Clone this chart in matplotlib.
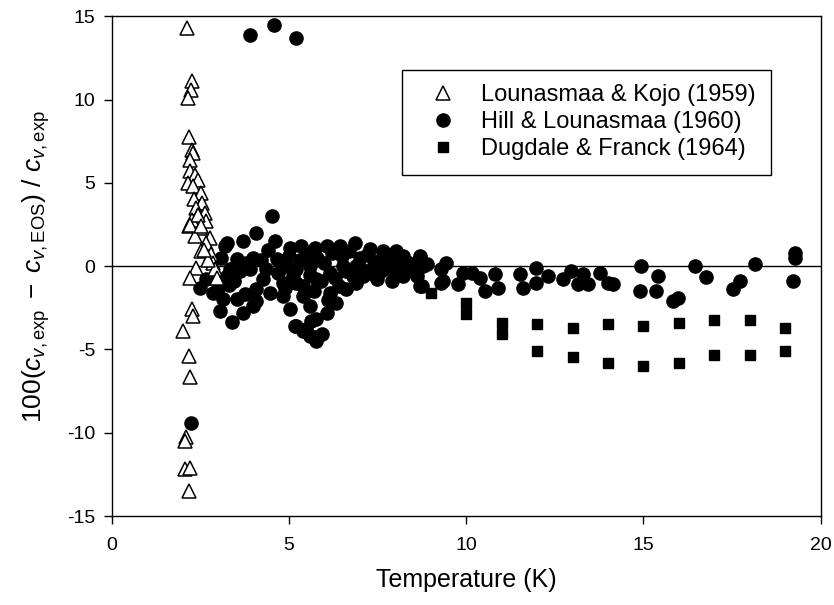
import matplotlib
matplotlib.use('Agg')
import matplotlib.pyplot as plt

plt.rcParams['font.family'] = ['Liberation Sans', 'DejaVu Sans']
plt.rcParams['mathtext.fontset'] = 'custom'
plt.rcParams['mathtext.rm'] = 'Liberation Sans'
plt.rcParams['mathtext.it'] = 'Liberation Sans:italic'
plt.rcParams['axes.unicode_minus'] = False

# Lounasmaa & Kojo (1959)
lk_T = [2.12, 2.25, 2.23, 2.15, 2.17, 2.27, 2.29, 2.22, 2.20, 2.36, 2.44, 2.15, 2.28,
        2.53, 2.31, 2.56, 2.39, 2.62, 2.44, 2.25, 2.67, 2.18, 2.48, 2.34, 2.76, 2.67,
        2.53, 2.81, 2.44, 2.20, 2.53, 2.86, 2.39, 2.90, 2.20, 2.97, 2.25, 2.29, 2.01,
        2.18, 2.20, 2.10, 2.06, 2.06, 2.22, 2.18, 2.72, 2.60]
lk_dev = [14.3, 11.1, 10.6, 10.1, 7.78, 7.0, 6.8, 6.4, 5.7, 5.5, 5.2, 5.0, 4.8,
          4.4, 4.06, 3.8, 3.5, 3.2, 3.06, 2.8, 2.7, 2.4, 2.3, 1.8, 1.7, 1.4,
          0.92, 0.72, 3.1, 2.46, 2.4, 0.22, -0.08, -0.18, -0.68, -0.68, -2.58, -2.98, -3.88,
          -5.42, -6.68, -10.28, -10.48, -12.18, -12.14, -13.48, 0.4, 1.0]

# Hill & Lounasmaa (1960)
hl_T = [3.89, 4.57, 5.19, 4.51, 2.23,
        3.24, 3.70, 4.08, 4.60, 5.02, 5.35, 5.73, 6.06, 6.43, 6.85, 7.28, 7.65, 8.03, 8.69,
        3.09, 3.33, 3.61, 3.80, 3.99, 2.48, 2.86, 3.14, 3.05, 3.38, 3.70, 3.75, 4.08, 4.08,
        4.46, 4.83, 5.21, 5.49, 5.73, 5.92, 5.77, 6.06, 6.34, 6.62, 5.59, 5.02, 5.40, 6.15,
        4.93, 5.21, 5.59, 5.77, 6.15, 6.52, 6.90, 7.09, 7.47, 7.84, 8.22, 8.60, 8.69, 4.65,
        4.36, 4.27, 4.83, 5.21,
        5.16, 5.40, 5.63, 5.77, 5.59,
        3.19, 3.52, 3.89, 3.52, 3.99, 2.67, 3.24, 3.00,
        4.70, 5.00, 5.10, 5.30, 5.40, 5.50, 5.60, 5.70, 5.80, 5.90, 6.00, 6.10, 6.20, 6.30,
        6.40, 6.50, 6.60, 6.70, 6.80, 7.00, 7.10, 7.20, 7.30, 7.50, 7.60, 7.80, 8.00, 8.10,
        8.40, 8.50, 4.40, 4.20, 3.30, 3.45, 4.90, 6.90, 7.40, 7.90,
        9.30, 9.30, 8.78, 8.74, 8.31, 8.22, 8.69, 8.78, 8.88,
        9.44, 9.35, 9.77, 9.91, 10.15, 10.38, 10.52, 10.80, 10.90, 11.51, 11.60, 11.98,
        11.98, 12.31, 12.73, 12.97, 13.15, 13.30, 13.44, 13.77, 14.00, 14.14, 14.94, 15.41,
        14.89, 15.36, 15.83, 15.97, 16.45, 16.77, 17.53, 17.72, 18.14, 19.27, 19.27, 19.22]
hl_dev = [13.9, 14.5, 13.7, 3.0, -9.42,
          1.42, 1.52, 2.02, 1.52, 1.12, 1.22, 1.12, 1.22, 1.22, 1.42, 1.02, 0.92, 0.92, 0.62,
          0.52, -0.18, -0.28, 0.22, 0.52, -1.28, -1.58, -1.98, -2.68, -3.34, -2.78, -1.68, -2.08, -1.38,
          -1.58, -1.78, -3.58, -3.78, -4.28, -4.08, -3.18, -2.78, -2.18, -1.38, -2.38, -2.58, -1.78, -1.58,
          0.02, -0.18, 0.02, -0.78, -0.38, 0.02, 0.02, -0.58, -0.78, -0.18, -0.58, -0.58, -1.18, 0.42,
          -0.18, -0.78, -0.98, -0.98,
          -3.58, -3.88, -3.28, -4.48, -4.18,
          1.22, 0.42, -0.18, -1.98, -2.38, -0.78, -0.58, -1.28,
          -0.4, 0.6, -0.6, 0.4, -1.2, 0.8, -0.5, -1.5, 0.5, -0.9, 0.2, -2.0, 0.8, -0.7,
          -1.2, 0.6, -0.3, 0.9, -0.6, 0.5, -0.2, 0.7, -0.4, 0.3, -0.3, 0.5, -0.3, 0.4,
          0.2, -0.2, 1.0, 0.4, -1.1, -0.9, -1.3, -1.0, 0.1, -0.9,
          -0.18, -0.98, 0.22, -1.18, 0.02, 0.62, 0.52, 0.02, 0.12,
          0.22, -0.88, -1.08, -0.38, -0.38, -0.68, -1.48, -0.48, -1.28, -0.48, -1.28, -0.08,
          -0.98, -0.58, -0.78, -0.28, -1.08, -0.48, -1.08, -0.38, -0.98, -1.08, 0.02, -0.58,
          -1.48, -1.48, -2.08, -1.88, 0.02, -0.62, -1.38, -0.88, 0.12, 0.82, 0.52, -0.88]

# Dugdale & Franck (1964)
df_T = [9.0, 10.0, 10.0, 11.0, 11.0, 12.0, 12.0, 13.0, 13.0, 14.0, 14.0, 15.0, 15.0,
        16.0, 16.0, 17.0, 17.0, 18.0, 18.0, 19.0, 19.0]
df_dev = [-1.58, -2.2, -2.85, -3.4, -4.1, -3.48, -5.12, -3.72, -5.48, -3.48, -5.82,
          -3.58, -5.98, -3.38, -5.82, -3.24, -5.32, -3.24, -5.32, -3.74, -5.08]

fig = plt.figure(figsize=(8.34, 6.05), dpi=100)
ax = fig.add_axes([0.134, 0.147, 0.850, 0.826])

ax.axhline(0, color='black', lw=1.0, zorder=1)
ax.plot(lk_T, lk_dev, linestyle='none', marker='^', ms=9.5, mfc='white', mec='black',
        mew=1.1, label='Lounasmaa & Kojo (1959)', zorder=3)
ax.plot(hl_T, hl_dev, linestyle='none', marker='o', ms=9.5, color='black',
        label='Hill & Lounasmaa (1960)', zorder=2)
ax.plot(df_T, df_dev, linestyle='none', marker='s', ms=7.5, color='black',
        label='Dugdale & Franck (1964)', zorder=2)

ax.set_xlim(0, 20)
ax.set_ylim(-15, 15)
ax.set_xticks([0, 5, 10, 15, 20])
ax.set_yticks([-15, -10, -5, 0, 5, 10, 15])
ax.tick_params(direction='out', length=6, width=1, labelsize=14,
               top=False, right=False)
ax.tick_params(axis='x', pad=9)
ax.tick_params(axis='y', pad=6)
for s in ax.spines.values():
    s.set_linewidth(1.0)

ax.set_xlabel('Temperature (K)', fontsize=18, labelpad=10)
ax.set_ylabel(r'100($c_{v,\mathrm{exp}}\;-\;c_{v,\mathrm{EOS}}$) / $c_{v,\mathrm{exp}}$',
              fontsize=19, labelpad=11)

leg = ax.legend(loc='upper left', bbox_to_anchor=(0.409, 0.893), fontsize=17,
                frameon=True, fancybox=False, edgecolor='black', framealpha=1,
                borderpad=0.62, labelspacing=0.2, handletextpad=0.45, handlelength=2.3,
                borderaxespad=0)
leg.get_frame().set_linewidth(1.0)

fig.savefig('out.png', dpi=100)
